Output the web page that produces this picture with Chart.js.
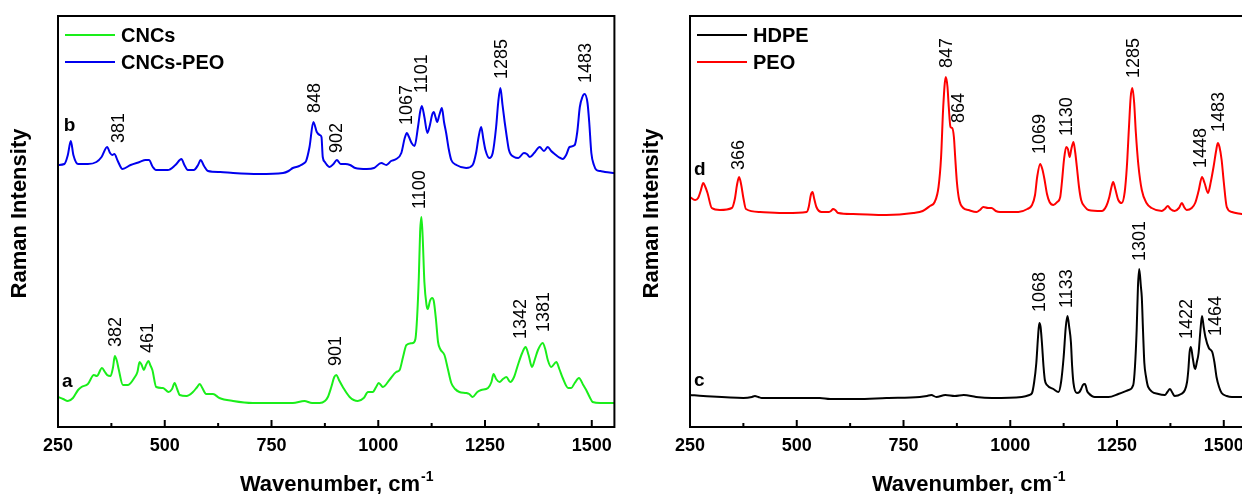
<!DOCTYPE html>
<html>
<head>
<meta charset="utf-8">
<script src="https://cdn.jsdelivr.net/npm/chart.js@4.4.1/dist/chart.umd.min.js"></script>
<style>
html, body { margin:0; padding:0; background:#fff; overflow:hidden; }
#wrap { position:relative; width:1242px; height:494px; overflow:hidden; background:#fff; }
#chartA { position:absolute; left:0; top:0; }
#chartB { position:absolute; left:632px; top:0; }
</style>
</head>
<body>
<div id="wrap">
  <canvas id="chartA" width="620" height="494"></canvas>
  <canvas id="chartB" width="620" height="494"></canvas>
</div>
<script>
// ---- left panel: CNCs (a) and CNCs-PEO (b) ----
var cncsWn = [250,262,273,285,297,305,320,334,341,353,360,365,373,379,383,388,392,402,414,430,436,441,446,451,456,462,466,471,480,496,509,517,523,529,535,551,566,576,582,588,597,613,628,660,706,753,800,827,845,863,875,882,890,897,902,908,917,933,952,966,976,987,995,1001,1006,1011,1026,1042,1050,1058,1066,1081,1087,1091,1095,1098,1101,1104,1108,1113,1116,1121,1126,1130,1135,1140,1145,1155,1163,1171,1180,1190,1206,1213,1221,1232,1241,1257,1265,1270,1276,1284,1292,1300,1309,1318,1327,1337,1345,1352,1360,1367,1374,1385,1391,1397,1405,1417,1424,1432,1445,1452,1460,1470,1480,1487,1495,1502,1520,1553];
var cncsI  = [30,28,26,29,37,40,43,52,51,59,55,52,51,60,71,66,58,42,42,50,55,65,62,57,62,66,62,57,40,39,35,38,44,38,32,31,35,40,43,39,33,33,29,26,24,24,24,26,24,24,26,30,40,50,52,47,40,30,26,29,35,35,40,44,42,40,47,55,57,70,82,84,88,110,150,195,210,190,145,122,118,126,129,126,108,85,78,72,58,44,38,35,34,33,30,35,37,39,45,53,48,45,48,50,45,50,62,74,80,72,60,68,77,84,78,67,60,65,58,49,39,39,44,49,42,37,30,25,24,24];

var cncsPeoWn = [250,265,273,280,286,297,320,340,352,365,372,377,382,390,401,420,441,455,463,472,479,507,525,539,546,554,568,578,584,592,601,630,660,720,777,790,800,815,827,831,839,848,856,863,867,870,875,880,886,895,903,912,923,934,946,973,990,1007,1019,1030,1042,1054,1062,1067,1072,1078,1085,1093,1098,1102,1108,1115,1121,1126,1130,1134,1138,1143,1149,1154,1159,1165,1171,1183,1206,1221,1229,1235,1241,1246,1251,1260,1268,1276,1281,1286,1291,1296,1301,1306,1318,1328,1341,1348,1355,1365,1378,1388,1397,1405,1413,1422,1432,1440,1448,1460,1466,1472,1478,1483,1490,1494,1499,1505,1511,1520,1531,1553];
var cncsPeoI  = [262,263,272,286,272,263,263,265,270,280,274,272,273,266,258,262,265,267,267,260,257,257,262,268,262,257,257,262,267,261,256,255,254,253,254,256,259,261,264,266,280,305,295,292,290,270,265,262,260,263,267,263,263,262,259,258,259,264,262,266,268,274,289,294,290,284,281,300,315,321,310,294,302,312,315,310,305,312,319,305,294,278,267,262,259,262,274,290,300,288,277,269,274,300,325,339,322,305,290,277,270,269,274,273,270,274,280,276,280,276,273,270,268,272,280,282,295,320,330,333,324,305,274,262,257,256,255,254];

// ---- right panel: HDPE (c) and PEO (d) ----
var hdpeWn = [250,281,375,395,402,410,418,554,578,640,710,788,805,815,827,848,870,891,920,957,1027,1045,1051,1056,1061,1065,1068,1071,1074,1078,1081,1086,1101,1113,1119,1125,1130,1134,1138,1142,1145,1148,1156,1162,1166,1170,1175,1180,1183,1198,1230,1253,1277,1288,1292,1296,1299,1302,1306,1308,1311,1314,1318,1323,1347,1362,1368,1374,1380,1385,1400,1409,1414,1417,1420,1423,1427,1431,1433,1437,1441,1445,1449,1453,1457,1465,1473,1478,1483,1489,1495,1507,1519,1553];
var hdpeI  = [32,31,29,30,31,30,29,29,28,28,29,30,31,32,30,32,31,32,30,29,30,32,34,45,64,90,104,100,85,60,47,42,38,35,45,70,100,111,100,85,60,44,34,35,38,42,43,36,34,30,30,33,37,42,60,97,140,158,140,130,95,64,50,40,33,32,35,38,34,31,33,37,45,57,75,80,70,60,58,65,74,95,111,100,90,79,75,65,50,40,34,31,30,30];

var peoWn = [250,262,269,275,281,286,291,301,320,348,355,360,365,370,375,381,414,476,523,528,533,537,541,546,558,574,580,585,590,597,632,710,773,795,812,823,832,838,843,849,853,856,860,864,868,871,875,880,890,902,921,929,937,948,956,966,976,1019,1040,1051,1058,1063,1070,1075,1080,1086,1092,1101,1110,1117,1121,1126,1131,1135,1139,1143,1148,1152,1156,1161,1166,1175,1183,1214,1225,1232,1237,1241,1246,1253,1261,1268,1273,1278,1282,1286,1290,1294,1300,1308,1319,1331,1355,1362,1369,1375,1385,1395,1402,1407,1413,1425,1433,1441,1449,1455,1463,1470,1476,1482,1486,1490,1495,1500,1507,1519,1542,1553];
var peoI  = [230,227,229,236,244,240,234,219,217,219,228,242,250,242,229,218,215,214,215,220,232,235,228,220,215,215,216,218,217,214,213,212,214,216,221,225,240,270,320,350,340,320,300,299,290,270,245,228,219,217,215,217,220,219,219,216,215,215,218,222,232,250,263,258,248,233,225,222,225,230,245,268,280,278,270,278,285,275,260,240,227,220,217,216,221,230,240,245,238,227,224,235,260,300,330,339,325,295,262,237,224,219,216,218,221,218,216,219,224,220,217,219,224,236,250,244,234,246,260,276,284,280,267,245,220,215,213,212];

// peak labels (text, wavenumber, intensity at the foot of the label)
var peakTextA = ['381','848','902','1067','1101','1285','1483','1100','382','461','901','1342','1381'];
var peakWnA   = [393,851,903,1067,1103,1290,1487,1098,387,462,902,1335,1389];
var peakYA    = [284,314,274,302,334,348,344,218,80,74,61,88,95];
var peakTextB = ['366','847','864','1069','1130','1285','1448','1483','1068','1133','1301','1422','1464'];
var peakWnB   = [365,852,880,1070,1134,1290,1447,1488,1070,1134,1305,1415,1483];
var peakYB    = [257,359,304,273,291,349,259,295,115,119,166,88,91];

// curve tags
var tagTextA = ['b','a'];
var tagWnA   = [277,272];
var tagYA    = [296,40];
var tagTextB = ['d','c'];
var tagWnB   = [273,272];
var tagYB    = [252,41];

var xTicks = [250,500,750,1000,1250,1500];
var FONT = '"Liberation Sans", Arial, sans-serif';

function puntos(wn, val){
    var lista = [];
    for (var i = 0; i < wn.length; i++){
        lista.push({x: wn[i], y: val[i]});
    }
    return lista;
}

var decor = {
    id: 'decor',
    afterDatasetsDraw: function(chart, args, opts){
        var ctx = chart.ctx, a = chart.chartArea;
        var xs = chart.scales.x, ys = chart.scales.y;
        ctx.save();
        ctx.fillStyle = '#000';
        ctx.strokeStyle = '#000';
        ctx.lineWidth = 2;
        ctx.strokeRect(a.left, a.top, a.right - a.left, a.bottom - a.top);

        // inward ticks on the bottom axis
        xs.ticks.forEach(function(t){
            var px = xs.getPixelForValue(t.value);
            var len = xTicks.indexOf(t.value) >= 0 ? 7 : 4;
            ctx.beginPath();
            ctx.moveTo(px, a.bottom);
            ctx.lineTo(px, a.bottom - len);
            ctx.stroke();
        });

        // legend
        chart.data.datasets.forEach(function(ds, i){
            var y = a.top + 19 + i * 27;
            ctx.strokeStyle = ds.borderColor;
            ctx.lineWidth = 2;
            ctx.beginPath();
            ctx.moveTo(a.left + 7, y);
            ctx.lineTo(a.left + 57, y);
            ctx.stroke();
            ctx.font = 'bold 20px ' + FONT;
            ctx.textAlign = 'left';
            ctx.textBaseline = 'middle';
            ctx.fillText(ds.label, a.left + 63, y + 1);
        });

        // peak labels
        ctx.font = '18px ' + FONT;
        ctx.textAlign = 'left';
        ctx.textBaseline = 'middle';
        for (var i = 0; i < opts.peakText.length; i++){
            ctx.save();
            ctx.translate(xs.getPixelForValue(opts.peakWn[i]), ys.getPixelForValue(opts.peakY[i]));
            ctx.rotate(-Math.PI / 2);
            ctx.fillText(opts.peakText[i], 0, 0);
            ctx.restore();
        }

        // curve tags
        ctx.font = 'bold 19px ' + FONT;
        ctx.textAlign = 'center';
        ctx.textBaseline = 'alphabetic';
        for (var j = 0; j < opts.tagText.length; j++){
            ctx.fillText(opts.tagText[j], xs.getPixelForValue(opts.tagWn[j]), ys.getPixelForValue(opts.tagY[j]));
        }

        // y title
        ctx.save();
        ctx.translate(a.left - 38, (a.top + a.bottom) / 2 - 8);
        ctx.rotate(-Math.PI / 2);
        ctx.font = 'bold 22px ' + FONT;
        ctx.textAlign = 'center';
        ctx.textBaseline = 'middle';
        ctx.fillText('Raman Intensity', 0, 0);
        ctx.restore();

        // x title with superscript
        ctx.font = 'bold 22px ' + FONT;
        var t1 = 'Wavenumber, cm';
        var w1 = ctx.measureText(t1).width;
        ctx.font = 'bold 14px ' + FONT;
        var w2 = ctx.measureText('-1').width;
        var x0 = (a.left + a.right) / 2 - (w1 + w2) / 2;
        ctx.textAlign = 'left';
        ctx.textBaseline = 'alphabetic';
        ctx.font = 'bold 22px ' + FONT;
        ctx.fillText(t1, x0, 491);
        ctx.font = 'bold 14px ' + FONT;
        ctx.fillText('-1', x0 + w1 + 1, 481);
        ctx.restore();
    }
};

function setGrafico(id, series, extra){
    var ctx = document.getElementById(id).getContext('2d');
    return new Chart(ctx, {
        type: 'line',
        data: {
            datasets: series.map(function(s){
                return {
                    label: s.label,
                    data: puntos(s.wn, s.val),
                    borderColor: s.color,
                    borderWidth: 2,
                    pointRadius: 0,
                    cubicInterpolationMode: 'monotone',
                    fill: false
                };
            })
        },
        options: {
            responsive: false,
            animation: false,
            devicePixelRatio: 1,
            layout: { padding: { left: 58, top: 16, right: 5, bottom: 0 } },
            plugins: {
                legend: { display: false },
                tooltip: { enabled: false },
                decor: extra
            },
            scales: {
                x: {
                    type: 'linear',
                    min: 250,
                    max: 1553,
                    afterFit: function(s){ s.height = 67; },
                    grid: { display: false, drawTicks: false },
                    border: { display: false },
                    ticks: {
                        stepSize: 125,
                        includeBounds: false,
                        autoSkip: false,
                        maxRotation: 0,
                        padding: 8,
                        color: '#000',
                        font: { family: FONT, size: 18, weight: 'bold' },
                        callback: function(v){ return xTicks.indexOf(v) >= 0 ? String(v) : ''; }
                    }
                },
                y: { display: false, min: 0, max: 411 }
            }
        },
        plugins: [decor]
    });
}

setGrafico('chartA', [
    { label: 'CNCs', wn: cncsWn, val: cncsI, color: '#1aee1a' },
    { label: 'CNCs-PEO', wn: cncsPeoWn, val: cncsPeoI, color: '#0000ee' }
], { peakText: peakTextA, peakWn: peakWnA, peakY: peakYA, tagText: tagTextA, tagWn: tagWnA, tagY: tagYA });

setGrafico('chartB', [
    { label: 'HDPE', wn: hdpeWn, val: hdpeI, color: '#000000' },
    { label: 'PEO', wn: peoWn, val: peoI, color: '#ff0000' }
], { peakText: peakTextB, peakWn: peakWnB, peakY: peakYB, tagText: tagTextB, tagWn: tagWnB, tagY: tagYB });
</script>
</body>
</html>
